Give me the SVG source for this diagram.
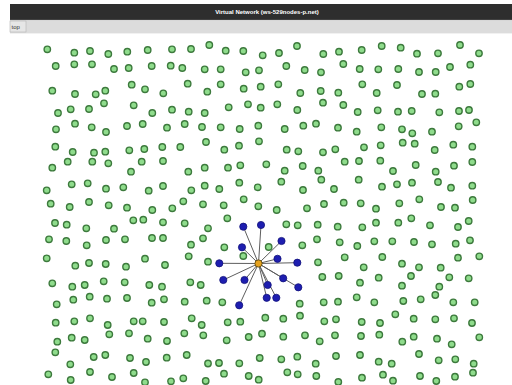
<svg xmlns="http://www.w3.org/2000/svg" width="512" height="385" viewBox="0 0 512 385">
<style>
.g{fill:#8fdc8c;stroke:#3d7a3d;stroke-width:1.4}
.b{fill:#1e1eb0;stroke:#12127a;stroke-width:0.8}
.o{fill:#e6a21e;stroke:#6e5412;stroke-width:1}
.e{stroke:#5e5e5e;stroke-width:1;fill:none}
.t{font-family:"Liberation Sans",Arial,sans-serif;font-size:6px}
</style>
<rect width="512" height="385" fill="#ffffff"/>
<g id="window-chrome">
<rect x="10" y="4" width="502" height="16" fill="#2e2e2e"/>
<rect x="10" y="19.5" width="502" height="0.8" fill="#555"/>
<text class="t" x="267" y="14" fill="#ffffff" font-weight="bold" text-anchor="middle">Virtual Network (ws-529nodes-p.net)</text>
<rect x="10" y="20.3" width="502" height="12.7" fill="#dcdcdc"/>
<rect x="10" y="21" width="16" height="11" fill="#e6e6e6" stroke="#b4b4b4" stroke-width="0.6"/>
<text class="t" x="11.5" y="29" fill="#333">top</text>
<rect x="10" y="33" width="502" height="0.6" fill="#e8e8e8"/>
</g>
<g id="connectors">
<line class="e" x1="258.5" y1="263.5" x2="243.3" y2="226.7"/>
<line class="e" x1="258.5" y1="263.5" x2="261" y2="225"/>
<line class="e" x1="258.5" y1="263.5" x2="242" y2="247.3"/>
<line class="e" x1="258.5" y1="263.5" x2="281.5" y2="241"/>
<line class="e" x1="258.5" y1="263.5" x2="277.5" y2="258.8"/>
<line class="e" x1="258.5" y1="263.5" x2="297.3" y2="262.7"/>
<line class="e" x1="258.5" y1="263.5" x2="219.3" y2="263.3"/>
<line class="e" x1="258.5" y1="263.5" x2="223.3" y2="280"/>
<line class="e" x1="258.5" y1="263.5" x2="244.5" y2="280"/>
<line class="e" x1="258.5" y1="263.5" x2="283.2" y2="278.3"/>
<line class="e" x1="258.5" y1="263.5" x2="267.7" y2="285"/>
<line class="e" x1="258.5" y1="263.5" x2="298.3" y2="287.3"/>
<line class="e" x1="258.5" y1="263.5" x2="266.7" y2="297.8"/>
<line class="e" x1="258.5" y1="263.5" x2="276.3" y2="297.8"/>
<line class="e" x1="258.5" y1="263.5" x2="239.2" y2="305.3"/>
</g>
<g id="nodes">
<g id="n1"><circle class="g" cx="47.3" cy="49.3" r="3.2"/></g>
<g id="n2"><circle class="g" cx="74.3" cy="52.7" r="3.2"/></g>
<g id="n3"><circle class="g" cx="90" cy="51" r="3.2"/></g>
<g id="n4"><circle class="g" cx="108.3" cy="54" r="3.2"/></g>
<g id="n5"><circle class="g" cx="127.3" cy="51.7" r="3.2"/></g>
<g id="n6"><circle class="g" cx="147.7" cy="50" r="3.2"/></g>
<g id="n7"><circle class="g" cx="172" cy="49.3" r="3.2"/></g>
<g id="n8"><circle class="g" cx="191" cy="49" r="3.2"/></g>
<g id="n9"><circle class="g" cx="55.7" cy="66" r="3.2"/></g>
<g id="n10"><circle class="g" cx="74.3" cy="64.3" r="3.2"/></g>
<g id="n11"><circle class="g" cx="92" cy="64.3" r="3.2"/></g>
<g id="n12"><circle class="g" cx="114" cy="69" r="3.2"/></g>
<g id="n13"><circle class="g" cx="128.7" cy="68" r="3.2"/></g>
<g id="n14"><circle class="g" cx="151.7" cy="66" r="3.2"/></g>
<g id="n15"><circle class="g" cx="170.7" cy="65.7" r="3.2"/></g>
<g id="n16"><circle class="g" cx="182.3" cy="68" r="3.2"/></g>
<g id="n17"><circle class="g" cx="204.7" cy="69.3" r="3.2"/></g>
<g id="n18"><circle class="g" cx="52.3" cy="90.7" r="3.2"/></g>
<g id="n19"><circle class="g" cx="75" cy="94" r="3.2"/></g>
<g id="n20"><circle class="g" cx="95.7" cy="94.3" r="3.2"/></g>
<g id="n21"><circle class="g" cx="105.3" cy="90.7" r="3.2"/></g>
<g id="n22"><circle class="g" cx="131.7" cy="84.7" r="3.2"/></g>
<g id="n23"><circle class="g" cx="145" cy="89.3" r="3.2"/></g>
<g id="n24"><circle class="g" cx="163.3" cy="93.3" r="3.2"/></g>
<g id="n25"><circle class="g" cx="187.7" cy="83.7" r="3.2"/></g>
<g id="n26"><circle class="g" cx="104" cy="103.3" r="3.2"/></g>
<g id="n27"><circle class="g" cx="133.7" cy="105.3" r="3.2"/></g>
<g id="n28"><circle class="g" cx="58" cy="113" r="3.2"/></g>
<g id="n29"><circle class="g" cx="70.7" cy="109.3" r="3.2"/></g>
<g id="n30"><circle class="g" cx="89" cy="109" r="3.2"/></g>
<g id="n31"><circle class="g" cx="152.3" cy="113" r="3.2"/></g>
<g id="n32"><circle class="g" cx="172" cy="109.7" r="3.2"/></g>
<g id="n33"><circle class="g" cx="188.7" cy="111.7" r="3.2"/></g>
<g id="n34"><circle class="g" cx="204.7" cy="113" r="3.2"/></g>
<g id="n35"><circle class="g" cx="56" cy="129.3" r="3.2"/></g>
<g id="n36"><circle class="g" cx="75" cy="123.7" r="3.2"/></g>
<g id="n37"><circle class="g" cx="91.7" cy="127.3" r="3.2"/></g>
<g id="n38"><circle class="g" cx="106" cy="132" r="3.2"/></g>
<g id="n39"><circle class="g" cx="127" cy="126" r="3.2"/></g>
<g id="n40"><circle class="g" cx="142.7" cy="124" r="3.2"/></g>
<g id="n41"><circle class="g" cx="167" cy="127.7" r="3.2"/></g>
<g id="n42"><circle class="g" cx="184.7" cy="124" r="3.2"/></g>
<g id="n43"><circle class="g" cx="202" cy="127" r="3.2"/></g>
<g id="n44"><circle class="g" cx="55.3" cy="146.7" r="3.2"/></g>
<g id="n45"><circle class="g" cx="72.7" cy="152" r="3.2"/></g>
<g id="n46"><circle class="g" cx="94" cy="152.7" r="3.2"/></g>
<g id="n47"><circle class="g" cx="105.3" cy="151.7" r="3.2"/></g>
<g id="n48"><circle class="g" cx="129.3" cy="150.3" r="3.2"/></g>
<g id="n49"><circle class="g" cx="144.3" cy="149" r="3.2"/></g>
<g id="n50"><circle class="g" cx="162.3" cy="147" r="3.2"/></g>
<g id="n51"><circle class="g" cx="180.3" cy="147" r="3.2"/></g>
<g id="n52"><circle class="g" cx="209.3" cy="45" r="3.2"/></g>
<g id="n53"><circle class="g" cx="225.7" cy="50.7" r="3.2"/></g>
<g id="n54"><circle class="g" cx="243.3" cy="51" r="3.2"/></g>
<g id="n55"><circle class="g" cx="262.7" cy="55.3" r="3.2"/></g>
<g id="n56"><circle class="g" cx="279" cy="53" r="3.2"/></g>
<g id="n57"><circle class="g" cx="297" cy="46" r="3.2"/></g>
<g id="n58"><circle class="g" cx="323.3" cy="54" r="3.2"/></g>
<g id="n59"><circle class="g" cx="339" cy="51.7" r="3.2"/></g>
<g id="n60"><circle class="g" cx="361.7" cy="50" r="3.2"/></g>
<g id="n61"><circle class="g" cx="220.7" cy="69.3" r="3.2"/></g>
<g id="n62"><circle class="g" cx="245.7" cy="72.3" r="3.2"/></g>
<g id="n63"><circle class="g" cx="259" cy="70.3" r="3.2"/></g>
<g id="n64"><circle class="g" cx="286.3" cy="66" r="3.2"/></g>
<g id="n65"><circle class="g" cx="304.7" cy="70" r="3.2"/></g>
<g id="n66"><circle class="g" cx="321" cy="72.3" r="3.2"/></g>
<g id="n67"><circle class="g" cx="343.3" cy="64" r="3.2"/></g>
<g id="n68"><circle class="g" cx="359.7" cy="69" r="3.2"/></g>
<g id="n69"><circle class="g" cx="220.7" cy="84.3" r="3.2"/></g>
<g id="n70"><circle class="g" cx="207.3" cy="91.7" r="3.2"/></g>
<g id="n71"><circle class="g" cx="243.7" cy="88.7" r="3.2"/></g>
<g id="n72"><circle class="g" cx="260.7" cy="86.7" r="3.2"/></g>
<g id="n73"><circle class="g" cx="278.3" cy="84.3" r="3.2"/></g>
<g id="n74"><circle class="g" cx="300.3" cy="93" r="3.2"/></g>
<g id="n75"><circle class="g" cx="320.7" cy="91" r="3.2"/></g>
<g id="n76"><circle class="g" cx="338.3" cy="92.7" r="3.2"/></g>
<g id="n77"><circle class="g" cx="362.3" cy="84.3" r="3.2"/></g>
<g id="n78"><circle class="g" cx="228.7" cy="107.3" r="3.2"/></g>
<g id="n79"><circle class="g" cx="248" cy="104.3" r="3.2"/></g>
<g id="n80"><circle class="g" cx="260.7" cy="107.7" r="3.2"/></g>
<g id="n81"><circle class="g" cx="277.3" cy="104.3" r="3.2"/></g>
<g id="n82"><circle class="g" cx="297.3" cy="110" r="3.2"/></g>
<g id="n83"><circle class="g" cx="323" cy="102.7" r="3.2"/></g>
<g id="n84"><circle class="g" cx="343.3" cy="105" r="3.2"/></g>
<g id="n85"><circle class="g" cx="357.7" cy="112" r="3.2"/></g>
<g id="n86"><circle class="g" cx="220.7" cy="127.3" r="3.2"/></g>
<g id="n87"><circle class="g" cx="239.7" cy="129" r="3.2"/></g>
<g id="n88"><circle class="g" cx="258.3" cy="125.7" r="3.2"/></g>
<g id="n89"><circle class="g" cx="284.7" cy="129" r="3.2"/></g>
<g id="n90"><circle class="g" cx="303.3" cy="125.7" r="3.2"/></g>
<g id="n91"><circle class="g" cx="316" cy="123.7" r="3.2"/></g>
<g id="n92"><circle class="g" cx="338" cy="127.7" r="3.2"/></g>
<g id="n93"><circle class="g" cx="356.7" cy="131.7" r="3.2"/></g>
<g id="n94"><circle class="g" cx="206" cy="142" r="3.2"/></g>
<g id="n95"><circle class="g" cx="224.3" cy="149.7" r="3.2"/></g>
<g id="n96"><circle class="g" cx="239" cy="145.7" r="3.2"/></g>
<g id="n97"><circle class="g" cx="259" cy="141.3" r="3.2"/></g>
<g id="n98"><circle class="g" cx="286.7" cy="149.7" r="3.2"/></g>
<g id="n99"><circle class="g" cx="298.3" cy="151.3" r="3.2"/></g>
<g id="n100"><circle class="g" cx="323" cy="152.3" r="3.2"/></g>
<g id="n101"><circle class="g" cx="335.3" cy="149.3" r="3.2"/></g>
<g id="n102"><circle class="g" cx="364" cy="147.3" r="3.2"/></g>
<g id="n103"><circle class="g" cx="381.7" cy="46" r="3.2"/></g>
<g id="n104"><circle class="g" cx="400.7" cy="47.7" r="3.2"/></g>
<g id="n105"><circle class="g" cx="417" cy="53.7" r="3.2"/></g>
<g id="n106"><circle class="g" cx="438" cy="53.3" r="3.2"/></g>
<g id="n107"><circle class="g" cx="460" cy="45" r="3.2"/></g>
<g id="n108"><circle class="g" cx="479" cy="53.3" r="3.2"/></g>
<g id="n109"><circle class="g" cx="378.3" cy="69.3" r="3.2"/></g>
<g id="n110"><circle class="g" cx="398.3" cy="69" r="3.2"/></g>
<g id="n111"><circle class="g" cx="419" cy="72" r="3.2"/></g>
<g id="n112"><circle class="g" cx="435.7" cy="72" r="3.2"/></g>
<g id="n113"><circle class="g" cx="450" cy="67" r="3.2"/></g>
<g id="n114"><circle class="g" cx="470.3" cy="64.7" r="3.2"/></g>
<g id="n115"><circle class="g" cx="376.7" cy="93" r="3.2"/></g>
<g id="n116"><circle class="g" cx="397" cy="85" r="3.2"/></g>
<g id="n117"><circle class="g" cx="422" cy="94" r="3.2"/></g>
<g id="n118"><circle class="g" cx="435.3" cy="93.7" r="3.2"/></g>
<g id="n119"><circle class="g" cx="459.3" cy="86.7" r="3.2"/></g>
<g id="n120"><circle class="g" cx="470.3" cy="84" r="3.2"/></g>
<g id="n121"><circle class="g" cx="377.7" cy="110.3" r="3.2"/></g>
<g id="n122"><circle class="g" cx="398" cy="111.7" r="3.2"/></g>
<g id="n123"><circle class="g" cx="411.7" cy="111" r="3.2"/></g>
<g id="n124"><circle class="g" cx="439.3" cy="112.3" r="3.2"/></g>
<g id="n125"><circle class="g" cx="459" cy="111" r="3.2"/></g>
<g id="n126"><circle class="g" cx="469" cy="110" r="3.2"/></g>
<g id="n127"><circle class="g" cx="381.3" cy="127.3" r="3.2"/></g>
<g id="n128"><circle class="g" cx="402" cy="129.3" r="3.2"/></g>
<g id="n129"><circle class="g" cx="412.3" cy="133.3" r="3.2"/></g>
<g id="n130"><circle class="g" cx="432" cy="131.7" r="3.2"/></g>
<g id="n131"><circle class="g" cx="458.7" cy="126.3" r="3.2"/></g>
<g id="n132"><circle class="g" cx="476.3" cy="122.3" r="3.2"/></g>
<g id="n133"><circle class="g" cx="380.7" cy="145.3" r="3.2"/></g>
<g id="n134"><circle class="g" cx="402.7" cy="142.7" r="3.2"/></g>
<g id="n135"><circle class="g" cx="414.7" cy="143.7" r="3.2"/></g>
<g id="n136"><circle class="g" cx="434.7" cy="150" r="3.2"/></g>
<g id="n137"><circle class="g" cx="453.3" cy="144.7" r="3.2"/></g>
<g id="n138"><circle class="g" cx="472.3" cy="146.7" r="3.2"/></g>
<g id="n139"><circle class="g" cx="52.3" cy="167.7" r="3.2"/></g>
<g id="n140"><circle class="g" cx="67.7" cy="161.7" r="3.2"/></g>
<g id="n141"><circle class="g" cx="92.3" cy="161.7" r="3.2"/></g>
<g id="n142"><circle class="g" cx="108.3" cy="163.3" r="3.2"/></g>
<g id="n143"><circle class="g" cx="141.7" cy="161.7" r="3.2"/></g>
<g id="n144"><circle class="g" cx="163" cy="161" r="3.2"/></g>
<g id="n145"><circle class="g" cx="131" cy="171.7" r="3.2"/></g>
<g id="n146"><circle class="g" cx="188.3" cy="171.7" r="3.2"/></g>
<g id="n147"><circle class="g" cx="204.7" cy="167.7" r="3.2"/></g>
<g id="n148"><circle class="g" cx="46.7" cy="190.3" r="3.2"/></g>
<g id="n149"><circle class="g" cx="71.7" cy="184.3" r="3.2"/></g>
<g id="n150"><circle class="g" cx="87.7" cy="183.3" r="3.2"/></g>
<g id="n151"><circle class="g" cx="106" cy="188.7" r="3.2"/></g>
<g id="n152"><circle class="g" cx="123.3" cy="187.3" r="3.2"/></g>
<g id="n153"><circle class="g" cx="148.7" cy="190.7" r="3.2"/></g>
<g id="n154"><circle class="g" cx="163" cy="186" r="3.2"/></g>
<g id="n155"><circle class="g" cx="191.3" cy="190.3" r="3.2"/></g>
<g id="n156"><circle class="g" cx="204.7" cy="185.7" r="3.2"/></g>
<g id="n157"><circle class="g" cx="50.7" cy="203.7" r="3.2"/></g>
<g id="n158"><circle class="g" cx="69.7" cy="207" r="3.2"/></g>
<g id="n159"><circle class="g" cx="89" cy="202" r="3.2"/></g>
<g id="n160"><circle class="g" cx="108.7" cy="205.3" r="3.2"/></g>
<g id="n161"><circle class="g" cx="127" cy="207.7" r="3.2"/></g>
<g id="n162"><circle class="g" cx="152.3" cy="210" r="3.2"/></g>
<g id="n163"><circle class="g" cx="172.3" cy="208.3" r="3.2"/></g>
<g id="n164"><circle class="g" cx="183.3" cy="201.3" r="3.2"/></g>
<g id="n165"><circle class="g" cx="203" cy="204.3" r="3.2"/></g>
<g id="n166"><circle class="g" cx="55" cy="223" r="3.2"/></g>
<g id="n167"><circle class="g" cx="66.7" cy="224.7" r="3.2"/></g>
<g id="n168"><circle class="g" cx="86.3" cy="228.3" r="3.2"/></g>
<g id="n169"><circle class="g" cx="114" cy="228.7" r="3.2"/></g>
<g id="n170"><circle class="g" cx="133.3" cy="220.3" r="3.2"/></g>
<g id="n171"><circle class="g" cx="143.3" cy="219.7" r="3.2"/></g>
<g id="n172"><circle class="g" cx="163" cy="222.3" r="3.2"/></g>
<g id="n173"><circle class="g" cx="184.7" cy="223.3" r="3.2"/></g>
<g id="n174"><circle class="g" cx="208" cy="228.3" r="3.2"/></g>
<g id="n175"><circle class="g" cx="49" cy="239.3" r="3.2"/></g>
<g id="n176"><circle class="g" cx="66.3" cy="241" r="3.2"/></g>
<g id="n177"><circle class="g" cx="86.7" cy="245.3" r="3.2"/></g>
<g id="n178"><circle class="g" cx="106" cy="240" r="3.2"/></g>
<g id="n179"><circle class="g" cx="125" cy="239.3" r="3.2"/></g>
<g id="n180"><circle class="g" cx="152" cy="238" r="3.2"/></g>
<g id="n181"><circle class="g" cx="163" cy="238" r="3.2"/></g>
<g id="n182"><circle class="g" cx="191" cy="244.7" r="3.2"/></g>
<g id="n183"><circle class="g" cx="203" cy="238.3" r="3.2"/></g>
<g id="n184"><circle class="g" cx="46.7" cy="258.3" r="3.2"/></g>
<g id="n185"><circle class="g" cx="75.3" cy="265.7" r="3.2"/></g>
<g id="n186"><circle class="g" cx="89" cy="263" r="3.2"/></g>
<g id="n187"><circle class="g" cx="105.7" cy="264" r="3.2"/></g>
<g id="n188"><circle class="g" cx="126" cy="266.7" r="3.2"/></g>
<g id="n189"><circle class="g" cx="145" cy="258.7" r="3.2"/></g>
<g id="n190"><circle class="g" cx="165" cy="265" r="3.2"/></g>
<g id="n191"><circle class="g" cx="188.7" cy="256.3" r="3.2"/></g>
<g id="n192"><circle class="g" cx="208" cy="261.7" r="3.2"/></g>
<g id="n193"><circle class="g" cx="228" cy="167.7" r="3.2"/></g>
<g id="n194"><circle class="g" cx="240.3" cy="165.3" r="3.2"/></g>
<g id="n195"><circle class="g" cx="266.3" cy="164.3" r="3.2"/></g>
<g id="n196"><circle class="g" cx="284.7" cy="170.7" r="3.2"/></g>
<g id="n197"><circle class="g" cx="302.7" cy="166" r="3.2"/></g>
<g id="n198"><circle class="g" cx="318.3" cy="170.7" r="3.2"/></g>
<g id="n199"><circle class="g" cx="344.7" cy="161.7" r="3.2"/></g>
<g id="n200"><circle class="g" cx="359" cy="161" r="3.2"/></g>
<g id="n201"><circle class="g" cx="219.3" cy="189" r="3.2"/></g>
<g id="n202"><circle class="g" cx="239.3" cy="182.7" r="3.2"/></g>
<g id="n203"><circle class="g" cx="257.7" cy="187.3" r="3.2"/></g>
<g id="n204"><circle class="g" cx="281.3" cy="181.7" r="3.2"/></g>
<g id="n205"><circle class="g" cx="303" cy="190" r="3.2"/></g>
<g id="n206"><circle class="g" cx="321.3" cy="179.7" r="3.2"/></g>
<g id="n207"><circle class="g" cx="334" cy="189" r="3.2"/></g>
<g id="n208"><circle class="g" cx="358.7" cy="179.7" r="3.2"/></g>
<g id="n209"><circle class="g" cx="223.7" cy="205.3" r="3.2"/></g>
<g id="n210"><circle class="g" cx="243.7" cy="199.3" r="3.2"/></g>
<g id="n211"><circle class="g" cx="258.3" cy="206.3" r="3.2"/></g>
<g id="n212"><circle class="g" cx="276.7" cy="210" r="3.2"/></g>
<g id="n213"><circle class="g" cx="307" cy="208.3" r="3.2"/></g>
<g id="n214"><circle class="g" cx="324" cy="204" r="3.2"/></g>
<g id="n215"><circle class="g" cx="343.7" cy="202.7" r="3.2"/></g>
<g id="n216"><circle class="g" cx="360.7" cy="203.3" r="3.2"/></g>
<g id="n217"><circle class="g" cx="227.3" cy="218.3" r="3.2"/></g>
<g id="n218"><circle class="g" cx="286.3" cy="224.3" r="3.2"/></g>
<g id="n219"><circle class="g" cx="297.7" cy="225.3" r="3.2"/></g>
<g id="n220"><circle class="g" cx="317.7" cy="224.7" r="3.2"/></g>
<g id="n221"><circle class="g" cx="337.7" cy="226.7" r="3.2"/></g>
<g id="n222"><circle class="g" cx="362.3" cy="227.3" r="3.2"/></g>
<g id="n223"><circle class="g" cx="224.3" cy="247.3" r="3.2"/></g>
<g id="n224"><circle class="g" cx="268.7" cy="247" r="3.2"/></g>
<g id="n225"><circle class="g" cx="302.3" cy="245.3" r="3.2"/></g>
<g id="n226"><circle class="g" cx="317" cy="239.3" r="3.2"/></g>
<g id="n227"><circle class="g" cx="339.7" cy="242.3" r="3.2"/></g>
<g id="n228"><circle class="g" cx="357.3" cy="246" r="3.2"/></g>
<g id="n229"><circle class="g" cx="243.3" cy="256" r="3.2"/></g>
<g id="n230"><circle class="g" cx="318" cy="262.3" r="3.2"/></g>
<g id="n231"><circle class="g" cx="344.7" cy="257.3" r="3.2"/></g>
<g id="n232"><circle class="g" cx="363.7" cy="267.3" r="3.2"/></g>
<g id="n233"><circle class="g" cx="380.3" cy="160.7" r="3.2"/></g>
<g id="n234"><circle class="g" cx="393" cy="171" r="3.2"/></g>
<g id="n235"><circle class="g" cx="415.7" cy="165" r="3.2"/></g>
<g id="n236"><circle class="g" cx="435.7" cy="171.7" r="3.2"/></g>
<g id="n237"><circle class="g" cx="454" cy="165.7" r="3.2"/></g>
<g id="n238"><circle class="g" cx="472.3" cy="162" r="3.2"/></g>
<g id="n239"><circle class="g" cx="382" cy="186.7" r="3.2"/></g>
<g id="n240"><circle class="g" cx="397" cy="184.3" r="3.2"/></g>
<g id="n241"><circle class="g" cx="412" cy="182.7" r="3.2"/></g>
<g id="n242"><circle class="g" cx="438" cy="182" r="3.2"/></g>
<g id="n243"><circle class="g" cx="451" cy="187.7" r="3.2"/></g>
<g id="n244"><circle class="g" cx="472.3" cy="185.7" r="3.2"/></g>
<g id="n245"><circle class="g" cx="376" cy="208.7" r="3.2"/></g>
<g id="n246"><circle class="g" cx="399.3" cy="203.3" r="3.2"/></g>
<g id="n247"><circle class="g" cx="419.3" cy="199.3" r="3.2"/></g>
<g id="n248"><circle class="g" cx="441" cy="207" r="3.2"/></g>
<g id="n249"><circle class="g" cx="455" cy="207.7" r="3.2"/></g>
<g id="n250"><circle class="g" cx="472.7" cy="200" r="3.2"/></g>
<g id="n251"><circle class="g" cx="376" cy="222.7" r="3.2"/></g>
<g id="n252"><circle class="g" cx="398.3" cy="222.7" r="3.2"/></g>
<g id="n253"><circle class="g" cx="411.3" cy="218.3" r="3.2"/></g>
<g id="n254"><circle class="g" cx="430" cy="225.3" r="3.2"/></g>
<g id="n255"><circle class="g" cx="458" cy="227" r="3.2"/></g>
<g id="n256"><circle class="g" cx="468.7" cy="221" r="3.2"/></g>
<g id="n257"><circle class="g" cx="374.3" cy="241.3" r="3.2"/></g>
<g id="n258"><circle class="g" cx="392.3" cy="241.3" r="3.2"/></g>
<g id="n259"><circle class="g" cx="414" cy="242" r="3.2"/></g>
<g id="n260"><circle class="g" cx="432" cy="244.3" r="3.2"/></g>
<g id="n261"><circle class="g" cx="455.7" cy="243.7" r="3.2"/></g>
<g id="n262"><circle class="g" cx="470" cy="240.3" r="3.2"/></g>
<g id="n263"><circle class="g" cx="382.3" cy="257" r="3.2"/></g>
<g id="n264"><circle class="g" cx="402" cy="263.7" r="3.2"/></g>
<g id="n265"><circle class="g" cx="419" cy="267.3" r="3.2"/></g>
<g id="n266"><circle class="g" cx="440.7" cy="267.7" r="3.2"/></g>
<g id="n267"><circle class="g" cx="458" cy="257.7" r="3.2"/></g>
<g id="n268"><circle class="g" cx="479.3" cy="256.3" r="3.2"/></g>
<g id="n269"><circle class="g" cx="52.3" cy="283.3" r="3.2"/></g>
<g id="n270"><circle class="g" cx="72.3" cy="286.7" r="3.2"/></g>
<g id="n271"><circle class="g" cx="84.7" cy="285" r="3.2"/></g>
<g id="n272"><circle class="g" cx="103.7" cy="281.3" r="3.2"/></g>
<g id="n273"><circle class="g" cx="124.7" cy="282.3" r="3.2"/></g>
<g id="n274"><circle class="g" cx="149.3" cy="285" r="3.2"/></g>
<g id="n275"><circle class="g" cx="162" cy="286.7" r="3.2"/></g>
<g id="n276"><circle class="g" cx="190.3" cy="282.3" r="3.2"/></g>
<g id="n277"><circle class="g" cx="200.7" cy="285" r="3.2"/></g>
<g id="n278"><circle class="g" cx="56.7" cy="304.3" r="3.2"/></g>
<g id="n279"><circle class="g" cx="73.3" cy="299.7" r="3.2"/></g>
<g id="n280"><circle class="g" cx="89.7" cy="296.7" r="3.2"/></g>
<g id="n281"><circle class="g" cx="107" cy="298.7" r="3.2"/></g>
<g id="n282"><circle class="g" cx="127" cy="298" r="3.2"/></g>
<g id="n283"><circle class="g" cx="151.7" cy="302.7" r="3.2"/></g>
<g id="n284"><circle class="g" cx="164" cy="299.3" r="3.2"/></g>
<g id="n285"><circle class="g" cx="184.7" cy="301.7" r="3.2"/></g>
<g id="n286"><circle class="g" cx="206.7" cy="300.7" r="3.2"/></g>
<g id="n287"><circle class="g" cx="55.7" cy="322.7" r="3.2"/></g>
<g id="n288"><circle class="g" cx="74.3" cy="321.3" r="3.2"/></g>
<g id="n289"><circle class="g" cx="90" cy="318.3" r="3.2"/></g>
<g id="n290"><circle class="g" cx="107.7" cy="325" r="3.2"/></g>
<g id="n291"><circle class="g" cx="133.7" cy="321.3" r="3.2"/></g>
<g id="n292"><circle class="g" cx="142.7" cy="321.3" r="3.2"/></g>
<g id="n293"><circle class="g" cx="164" cy="322" r="3.2"/></g>
<g id="n294"><circle class="g" cx="191.7" cy="318.3" r="3.2"/></g>
<g id="n295"><circle class="g" cx="201.7" cy="325" r="3.2"/></g>
<g id="n296"><circle class="g" cx="57.3" cy="341.7" r="3.2"/></g>
<g id="n297"><circle class="g" cx="71.7" cy="337.7" r="3.2"/></g>
<g id="n298"><circle class="g" cx="84.7" cy="340" r="3.2"/></g>
<g id="n299"><circle class="g" cx="109.3" cy="334.3" r="3.2"/></g>
<g id="n300"><circle class="g" cx="129" cy="333.3" r="3.2"/></g>
<g id="n301"><circle class="g" cx="147.7" cy="338.7" r="3.2"/></g>
<g id="n302"><circle class="g" cx="167" cy="341" r="3.2"/></g>
<g id="n303"><circle class="g" cx="184.3" cy="333.3" r="3.2"/></g>
<g id="n304"><circle class="g" cx="203.3" cy="335.3" r="3.2"/></g>
<g id="n305"><circle class="g" cx="55.3" cy="352.3" r="3.2"/></g>
<g id="n306"><circle class="g" cx="93.7" cy="357" r="3.2"/></g>
<g id="n307"><circle class="g" cx="105.3" cy="355" r="3.2"/></g>
<g id="n308"><circle class="g" cx="130" cy="358" r="3.2"/></g>
<g id="n309"><circle class="g" cx="146" cy="362" r="3.2"/></g>
<g id="n310"><circle class="g" cx="166.7" cy="357.7" r="3.2"/></g>
<g id="n311"><circle class="g" cx="186.7" cy="355" r="3.2"/></g>
<g id="n312"><circle class="g" cx="208" cy="363.5" r="3.2"/></g>
<g id="n313"><circle class="g" cx="70.3" cy="364.3" r="3.2"/></g>
<g id="n314"><circle class="g" cx="48.3" cy="374.3" r="3.2"/></g>
<g id="n315"><circle class="g" cx="70.7" cy="380" r="3.2"/></g>
<g id="n316"><circle class="g" cx="90" cy="372" r="3.2"/></g>
<g id="n317"><circle class="g" cx="112" cy="377" r="3.2"/></g>
<g id="n318"><circle class="g" cx="133.7" cy="373" r="3.2"/></g>
<g id="n319"><circle class="g" cx="145" cy="382.3" r="3.2"/></g>
<g id="n320"><circle class="g" cx="171" cy="381.3" r="3.2"/></g>
<g id="n321"><circle class="g" cx="183.3" cy="378.3" r="3.2"/></g>
<g id="n322"><circle class="g" cx="205.7" cy="381" r="3.2"/></g>
<g id="n323"><circle class="g" cx="322.3" cy="277" r="3.2"/></g>
<g id="n324"><circle class="g" cx="338.7" cy="276" r="3.2"/></g>
<g id="n325"><circle class="g" cx="360" cy="282.7" r="3.2"/></g>
<g id="n326"><circle class="g" cx="222.3" cy="302.3" r="3.2"/></g>
<g id="n327"><circle class="g" cx="299.7" cy="303.7" r="3.2"/></g>
<g id="n328"><circle class="g" cx="323.7" cy="302.3" r="3.2"/></g>
<g id="n329"><circle class="g" cx="338" cy="301.7" r="3.2"/></g>
<g id="n330"><circle class="g" cx="356.7" cy="297.3" r="3.2"/></g>
<g id="n331"><circle class="g" cx="227.7" cy="322.3" r="3.2"/></g>
<g id="n332"><circle class="g" cx="240.3" cy="321.7" r="3.2"/></g>
<g id="n333"><circle class="g" cx="265.3" cy="317.7" r="3.2"/></g>
<g id="n334"><circle class="g" cx="283.3" cy="318.7" r="3.2"/></g>
<g id="n335"><circle class="g" cx="300" cy="315.7" r="3.2"/></g>
<g id="n336"><circle class="g" cx="324.3" cy="321.3" r="3.2"/></g>
<g id="n337"><circle class="g" cx="336" cy="319.3" r="3.2"/></g>
<g id="n338"><circle class="g" cx="361.7" cy="322" r="3.2"/></g>
<g id="n339"><circle class="g" cx="226.7" cy="340.3" r="3.2"/></g>
<g id="n340"><circle class="g" cx="248.7" cy="337" r="3.2"/></g>
<g id="n341"><circle class="g" cx="262" cy="333.7" r="3.2"/></g>
<g id="n342"><circle class="g" cx="283.3" cy="336.7" r="3.2"/></g>
<g id="n343"><circle class="g" cx="305" cy="335.3" r="3.2"/></g>
<g id="n344"><circle class="g" cx="319.7" cy="341.3" r="3.2"/></g>
<g id="n345"><circle class="g" cx="335" cy="335.3" r="3.2"/></g>
<g id="n346"><circle class="g" cx="361" cy="336" r="3.2"/></g>
<g id="n347"><circle class="g" cx="219" cy="363" r="3.2"/></g>
<g id="n348"><circle class="g" cx="239.3" cy="363.3" r="3.2"/></g>
<g id="n349"><circle class="g" cx="259.7" cy="358" r="3.2"/></g>
<g id="n350"><circle class="g" cx="281.3" cy="359.3" r="3.2"/></g>
<g id="n351"><circle class="g" cx="297.3" cy="356.7" r="3.2"/></g>
<g id="n352"><circle class="g" cx="315.7" cy="363.7" r="3.2"/></g>
<g id="n353"><circle class="g" cx="336" cy="356" r="3.2"/></g>
<g id="n354"><circle class="g" cx="360" cy="355" r="3.2"/></g>
<g id="n355"><circle class="g" cx="224" cy="373.7" r="3.2"/></g>
<g id="n356"><circle class="g" cx="248.7" cy="376" r="3.2"/></g>
<g id="n357"><circle class="g" cx="258.7" cy="379.7" r="3.2"/></g>
<g id="n358"><circle class="g" cx="287.3" cy="372.3" r="3.2"/></g>
<g id="n359"><circle class="g" cx="297.7" cy="374.3" r="3.2"/></g>
<g id="n360"><circle class="g" cx="316.3" cy="376" r="3.2"/></g>
<g id="n361"><circle class="g" cx="338.3" cy="382" r="3.2"/></g>
<g id="n362"><circle class="g" cx="362" cy="377.7" r="3.2"/></g>
<g id="n363"><circle class="g" cx="378.7" cy="277.7" r="3.2"/></g>
<g id="n364"><circle class="g" cx="411" cy="276" r="3.2"/></g>
<g id="n365"><circle class="g" cx="402" cy="285.7" r="3.2"/></g>
<g id="n366"><circle class="g" cx="439.3" cy="286.7" r="3.2"/></g>
<g id="n367"><circle class="g" cx="449.3" cy="277.3" r="3.2"/></g>
<g id="n368"><circle class="g" cx="468.7" cy="278.3" r="3.2"/></g>
<g id="n369"><circle class="g" cx="374.3" cy="302.3" r="3.2"/></g>
<g id="n370"><circle class="g" cx="403.3" cy="301" r="3.2"/></g>
<g id="n371"><circle class="g" cx="420.7" cy="299.3" r="3.2"/></g>
<g id="n372"><circle class="g" cx="435.3" cy="295" r="3.2"/></g>
<g id="n373"><circle class="g" cx="453.3" cy="302.3" r="3.2"/></g>
<g id="n374"><circle class="g" cx="474.7" cy="302.3" r="3.2"/></g>
<g id="n375"><circle class="g" cx="380" cy="323" r="3.2"/></g>
<g id="n376"><circle class="g" cx="395.3" cy="314.3" r="3.2"/></g>
<g id="n377"><circle class="g" cx="413.7" cy="318.7" r="3.2"/></g>
<g id="n378"><circle class="g" cx="435.3" cy="319.3" r="3.2"/></g>
<g id="n379"><circle class="g" cx="454" cy="318.3" r="3.2"/></g>
<g id="n380"><circle class="g" cx="472" cy="323" r="3.2"/></g>
<g id="n381"><circle class="g" cx="379.3" cy="334.7" r="3.2"/></g>
<g id="n382"><circle class="g" cx="402.3" cy="341.7" r="3.2"/></g>
<g id="n383"><circle class="g" cx="413.7" cy="336.7" r="3.2"/></g>
<g id="n384"><circle class="g" cx="437" cy="338.7" r="3.2"/></g>
<g id="n385"><circle class="g" cx="451.7" cy="344.3" r="3.2"/></g>
<g id="n386"><circle class="g" cx="479.3" cy="337.3" r="3.2"/></g>
<g id="n387"><circle class="g" cx="378.7" cy="361.7" r="3.2"/></g>
<g id="n388"><circle class="g" cx="391.7" cy="363.7" r="3.2"/></g>
<g id="n389"><circle class="g" cx="419" cy="354" r="3.2"/></g>
<g id="n390"><circle class="g" cx="438.7" cy="360.3" r="3.2"/></g>
<g id="n391"><circle class="g" cx="455.3" cy="359.3" r="3.2"/></g>
<g id="n392"><circle class="g" cx="473.7" cy="363.7" r="3.2"/></g>
<g id="n393"><circle class="g" cx="383" cy="374.7" r="3.2"/></g>
<g id="n394"><circle class="g" cx="393" cy="380.7" r="3.2"/></g>
<g id="n395"><circle class="g" cx="420" cy="376" r="3.2"/></g>
<g id="n396"><circle class="g" cx="436.3" cy="381" r="3.2"/></g>
<g id="n397"><circle class="g" cx="455" cy="376.7" r="3.2"/></g>
<g id="n398"><circle class="g" cx="473" cy="372.7" r="3.2"/></g>
<g id="b1"><circle class="b" cx="243.3" cy="226.7" r="3.6"/></g>
<g id="b2"><circle class="b" cx="261" cy="225" r="3.6"/></g>
<g id="b3"><circle class="b" cx="242" cy="247.3" r="3.6"/></g>
<g id="b4"><circle class="b" cx="281.5" cy="241" r="3.6"/></g>
<g id="b5"><circle class="b" cx="277.5" cy="258.8" r="3.6"/></g>
<g id="b6"><circle class="b" cx="297.3" cy="262.7" r="3.6"/></g>
<g id="b7"><circle class="b" cx="219.3" cy="263.3" r="3.6"/></g>
<g id="b8"><circle class="b" cx="223.3" cy="280" r="3.6"/></g>
<g id="b9"><circle class="b" cx="244.5" cy="280" r="3.6"/></g>
<g id="b10"><circle class="b" cx="283.2" cy="278.3" r="3.6"/></g>
<g id="b11"><circle class="b" cx="267.7" cy="285" r="3.6"/></g>
<g id="b12"><circle class="b" cx="298.3" cy="287.3" r="3.6"/></g>
<g id="b13"><circle class="b" cx="266.7" cy="297.8" r="3.6"/></g>
<g id="b14"><circle class="b" cx="276.3" cy="297.8" r="3.6"/></g>
<g id="b15"><circle class="b" cx="239.2" cy="305.3" r="3.6"/></g>
<g id="hub"><circle class="o" cx="258.5" cy="263.5" r="3.6"/></g>
</g>
</svg>
